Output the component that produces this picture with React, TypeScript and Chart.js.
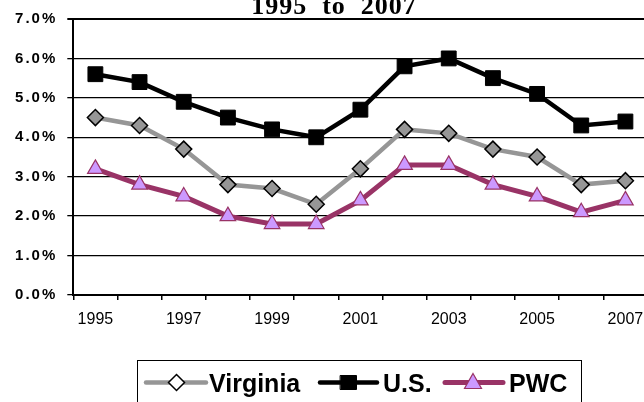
import React, { useEffect, useRef } from 'react';
import { Chart, registerables } from 'chart.js';

Chart.register(...registerables);

const years = ['1995', '1996', '1997', '1998', '1999', '2000', '2001', '2002', '2003', '2004', '2005', '2006', '2007'];
const virginia = [4.5, 4.3, 3.7, 2.8, 2.7, 2.3, 3.2, 4.2, 4.1, 3.7, 3.5, 2.8, 2.9];
const usRate = [5.6, 5.4, 4.9, 4.5, 4.2, 4.0, 4.7, 5.8, 6.0, 5.5, 5.1, 4.3, 4.4];
const pwc = [3.2, 2.8, 2.5, 2.0, 1.8, 1.8, 2.4, 3.3, 3.3, 2.8, 2.5, 2.1, 2.4];
const yMin = 0;
const yMax = 7;
const yStep = 1;
const titleText = '1995  to  2007';
const seriesLabels = ['Virginia', 'U.S.', 'PWC'];

function drawMarker(ctx: CanvasRenderingContext2D, style: string, x: number, y: number, w: number, h: number, fill: string, stroke: string, lw: number) {
  ctx.beginPath();
  if (style === 'rectRot') {
    ctx.moveTo(x, y - h / 2);
    ctx.lineTo(x + w / 2, y);
    ctx.lineTo(x, y + h / 2);
    ctx.lineTo(x - w / 2, y);
    ctx.closePath();
  } else if (style === 'rect') {
    ctx.rect(x - w / 2, y - h / 2, w, h);
  } else {
    ctx.moveTo(x, y - h * 0.6);
    ctx.lineTo(x + w / 2, y + h * 0.4);
    ctx.lineTo(x - w / 2, y + h * 0.4);
    ctx.closePath();
  }
  ctx.fillStyle = fill;
  ctx.fill();
  ctx.lineWidth = lw;
  ctx.strokeStyle = stroke;
  ctx.stroke();
}

const decorPlugin = {
  id: 'decor',
  afterDatasetsDraw(chart: any) {
    (chart.ctx as any).letterSpacing = '2px';
  },
  afterDraw(chart: any) {
    const ctx = chart.ctx as CanvasRenderingContext2D;
    (ctx as any).letterSpacing = '0px';
    // title
    ctx.save();
    (ctx as any).letterSpacing = '1px';
    ctx.font = 'bold 26px "Liberation Serif", "Times New Roman", serif';
    ctx.fillStyle = '#000';
    ctx.textAlign = 'center';
    ctx.textBaseline = 'alphabetic';
    ctx.fillText(titleText, 334, 14);
    ctx.restore();

    // legend
    ctx.save();
    ctx.strokeStyle = '#000';
    ctx.lineWidth = 1;
    ctx.strokeRect(137.5, 360.5, 444, 50);
    const slots = [
      { x0: 146, x1: 206, mx: 176.5, tx: 209, mw: 16, mh: 16, fill: '#ffffff', stroke: '#000000', lw: 1.5 },
      { x0: 320, x1: 377, mx: 348.5, tx: 383, mw: 16, mh: 14, fill: '#000000', stroke: '#000000', lw: 1 },
      { x0: 445, x1: 503, mx: 473, tx: 509, mw: 17, mh: 15, fill: '#CC99FF', stroke: '#993366', lw: 1.2 },
    ];
    const ly = 382.5;
    chart.data.datasets.forEach((ds: any, i: number) => {
      const s = slots[i];
      ctx.beginPath();
      ctx.moveTo(s.x0, ly);
      ctx.lineTo(s.x1, ly);
      ctx.lineCap = 'round';
      ctx.lineWidth = ds.borderWidth;
      ctx.strokeStyle = ds.borderColor;
      ctx.stroke();
      drawMarker(ctx, ds.pointStyle, s.mx, ly, s.mw, s.mh, s.fill, s.stroke, s.lw);
      ctx.font = 'bold 25px "Liberation Sans", Arial, sans-serif';
      ctx.fillStyle = '#000';
      ctx.textAlign = 'left';
      ctx.textBaseline = 'alphabetic';
      ctx.fillText(ds.label, s.tx, 391.5);
    });
    ctx.restore();
  },
};

export default function App() {
  const ref = useRef<HTMLCanvasElement | null>(null);

  useEffect(() => {
    if (!ref.current) return;
    const chart = new Chart(ref.current, {
      type: 'line',
      data: {
        labels: years,
        datasets: [
          {
            label: seriesLabels[0],
            data: virginia,
            borderColor: '#969696',
            borderWidth: 4.5,
            pointStyle: 'rectRot',
            pointRadius: 8,
            pointBackgroundColor: '#969696',
            pointBorderColor: '#000000',
            pointBorderWidth: 1.5,
            tension: 0,
          },
          {
            label: seriesLabels[1],
            data: usRate,
            borderColor: '#000000',
            borderWidth: 4.5,
            pointStyle: 'rect',
            pointRadius: 10.5,
            pointBackgroundColor: '#000000',
            pointBorderColor: '#000000',
            pointBorderWidth: 1,
            tension: 0,
          },
          {
            label: seriesLabels[2],
            data: pwc,
            borderColor: '#993366',
            borderWidth: 5,
            pointStyle: 'triangle',
            pointRadius: 9,
            pointBackgroundColor: '#CC99FF',
            pointBorderColor: '#993366',
            pointBorderWidth: 1.2,
            tension: 0,
          },
        ],
      },
      options: {
        animation: false,
        responsive: false,
        devicePixelRatio: 1,
        clip: false as any,
        layout: { padding: { top: 16.7, bottom: 77, left: 0, right: 12.5 } },
        plugins: {
          legend: { display: false },
          title: { display: false },
          tooltip: { enabled: false },
        },
        scales: {
          x: {
            type: 'category',
            offset: true,
            grid: {
              offset: true,
              drawOnChartArea: false,
              drawTicks: true,
              tickLength: 5,
              color: '#000',
              lineWidth: 1.5,
            },
            border: { display: true, color: '#000', width: 2 },
            ticks: {
              autoSkip: false,
              maxRotation: 0,
              minRotation: 0,
              color: '#000',
              padding: 10,
              font: { family: '"Liberation Sans", Arial, sans-serif', size: 16 },
              callback: (_v: any, i: number) => (i % 2 === 0 ? years[i] : ''),
            },
            afterFit: (s: any) => {
              s.height = 30;
            },
          },
          y: {
            min: yMin,
            max: yMax,
            grid: {
              color: '#000',
              lineWidth: (c: any) => (c.tick && c.tick.value === yMax ? 2 : 1.3),
              drawTicks: true,
              tickLength: 6,
            },
            border: { display: true, color: '#000', width: 2 },
            ticks: {
              stepSize: yStep,
              color: '#000',
              padding: 10,
              z: 1,
              font: { family: '"Liberation Sans", Arial, sans-serif', size: 15, weight: 'bold' },
              callback: (v: any) => Number(v).toFixed(1) + '%',
            },
            afterFit: (s: any) => {
              s.width = 73.3;
            },
          },
        },
      },
      plugins: [decorPlugin],
    } as any);
    return () => chart.destroy();
  }, []);

  return (
    <div style={{ position: 'fixed', left: 0, top: 0, width: 644, height: 402, overflow: 'hidden', background: '#fff' }}>
      <canvas ref={ref} width={660} height={402} style={{ display: 'block', width: 660, height: 402 }} />
    </div>
  );
}
